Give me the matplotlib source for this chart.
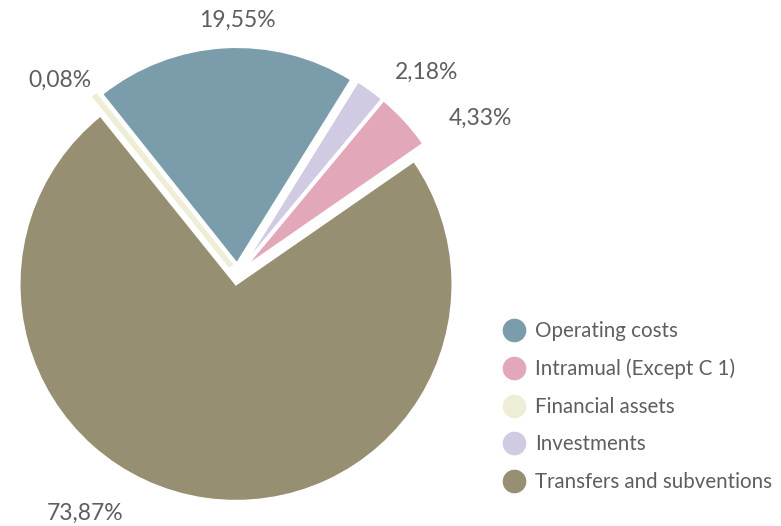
import numpy as np
import matplotlib.pyplot as plt
from matplotlib.lines import Line2D

plt.rcParams['font.family'] = ['Lato', 'DejaVu Sans']

# data (legend order)
categories = ["Operating costs", "Intramual (Except C 1)", "Financial assets",
              "Investments", "Transfers and subventions"]
shares = [19.55, 4.33, 0.08, 2.18, 73.87]
colors = ["#7a9cab", "#e2a8b9", "#eeeed7", "#d0cae2", "#978f72"]

# order of the wedges around the pie (counter-clockwise from the pink one)
pie_order = [1, 3, 0, 2, 4]

W, H = 781, 526
fig = plt.figure(figsize=(W / 100, H / 100), dpi=100)
ax = fig.add_axes([0, 0, 1, 1])
ax.set_xlim(0, W)
ax.set_ylim(0, H)
ax.set_aspect('equal')
ax.axis('off')

cx, cy, R = 237.5, H - 274, 216.5
vals = [shares[i] for i in pie_order]
cols = [colors[i] for i in pie_order]
wedges, _ = ax.pie(vals, colors=cols, startangle=34.7, counterclock=True,
                   center=(cx, cy), radius=R, explode=[10.5] * 5,
                   wedgeprops=dict(edgecolor='white', linewidth=1.5))
# the tiny slice gets its own outline so it stays visible
wedges[pie_order.index(2)].set_edgecolor(colors[2])
wedges[pie_order.index(2)].set_linewidth(3.5)
ax.set_xlim(0, W)
ax.set_ylim(0, H)

# percentage labels (pixel positions of the text centres)
label_pos = {0: (237, 20), 1: (480, 118), 2: (60, 80), 3: (427, 72), 4: (85, 513)}
for i, (px, py) in label_pos.items():
    txt = f"{shares[i]:.2f}%".replace('.', ',')
    ax.text(px, H - py, txt, ha='center', va='center', fontsize=16.5,
            color='#5e5e5e')

handles = [Line2D([], [], marker='o', linestyle='none', markersize=16,
                  markerfacecolor=c, markeredgecolor=c) for c in colors]
leg = ax.legend(handles, categories, loc='upper left',
                bbox_to_anchor=(489 / W, 1 - 311 / H), frameon=False,
                prop=dict(size=14.8), labelcolor='#5e5e5e',
                labelspacing=0.85, handletextpad=0.35, handlelength=1.4,
                borderpad=0)

fig.savefig("out.png", dpi=100)
